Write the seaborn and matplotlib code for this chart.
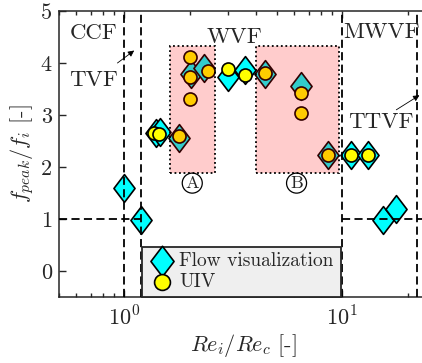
import numpy as np
import pandas as pd
import matplotlib
matplotlib.use("Agg")
import matplotlib.pyplot as plt
from matplotlib.path import Path
from matplotlib.patches import Rectangle
from matplotlib.ticker import NullFormatter, FixedLocator, LogLocator
import seaborn as sns

# ---------------- data ----------------
flow_x = [1.00, 1.19, 1.40, 1.46, 1.78, 2.02, 2.33, 2.99, 3.56, 4.40, 6.48, 8.59, 11.0, 13.1, 15.4, 17.6]
flow_y = [1.59, 0.98, 2.66, 2.67, 2.55, 3.78, 3.91, 3.74, 3.87, 3.79, 3.55, 2.23, 2.23, 2.23, 0.98, 1.19]

uiv_x = [1.37, 1.45, 1.79, 2.01, 2.01, 2.01, 2.41, 2.99, 3.58, 4.40, 6.48, 6.48, 8.59, 11.0, 13.1]
uiv_y = [2.65, 2.64, 2.60, 4.12, 3.74, 3.30, 3.84, 3.88, 3.77, 3.80, 3.43, 3.04, 2.23, 2.23, 2.23]

regime_bounds = [1.0, 1.19, 10.0, 22.0]
regime_labels = ["CCF", "TVF", "WVF", "MWVF", "TTVF"]
region_A = (1.615, 2.60)
region_B = (4.0, 9.62)
region_y = (1.88, 4.32)
legend_labels = ["Flow visualization", "UIV"]
x_ticks = [1, 10]
x_ticklabels = [r"$10^0$", r"$10^1$"]
y_ticks = [0, 1, 2, 3, 4, 5]

# ---------------- style ----------------
sns.set_style("ticks")
plt.rcParams["font.family"] = ["cmr10", "DejaVu Serif"]
plt.rcParams["mathtext.fontset"] = "cm"
plt.rcParams["axes.unicode_minus"] = False
plt.rcParams["axes.formatter.use_mathtext"] = True
FS_TICK = 16
FS_LAB = 16
FS_ANN = 16.5
FS_LEG = 14

fig = plt.figure(figsize=(4.22, 3.63), dpi=100)
ax = fig.add_axes([58.7 / 422, 66 / 363, 370.3 / 422, 286 / 363])
ax.set_xscale("log")
ax.set_xlim(0.5, 25)
ax.set_ylim(-0.5, 5)

diamond = Path([(0, 1), (0.76, 0), (0, -1), (-0.76, 0), (0, 1)],
               [Path.MOVETO, Path.LINETO, Path.LINETO, Path.LINETO, Path.CLOSEPOLY])

df_flow = pd.DataFrame({"x": flow_x, "y": flow_y})
df_uiv = pd.DataFrame({"x": uiv_x, "y": uiv_y})

sns.scatterplot(data=df_flow, x="x", y="y", ax=ax, marker=diamond, s=400,
                color="#00FFFF", edgecolor="black", linewidth=1.2,
                label=legend_labels[0], zorder=3)
sns.scatterplot(data=df_uiv, x="x", y="y", ax=ax, marker="o", s=88,
                color="#FFFF00", edgecolor="black", linewidth=1.2,
                label=legend_labels[1], zorder=4)

# shaded regions (drawn over markers)
for (x0, x1) in (region_A, region_B):
    ax.add_patch(Rectangle((x0, region_y[0]), x1 - x0, region_y[1] - region_y[0],
                           facecolor=(1, 0, 0, 0.2), edgecolor="black",
                           linestyle=(0, (1, 1.5)), linewidth=1.3, zorder=5))

# dashed regime boundaries
dash = (0, (4.5, 2.4))
for xb in regime_bounds:
    ax.axvline(xb, color="black", lw=1.3, linestyle=dash, zorder=6)
ax.plot([0.5, regime_bounds[1]], [1, 1], color="black", lw=1.3, linestyle=dash, zorder=6)
ax.plot([regime_bounds[2], 25], [1, 1], color="black", lw=1.3, linestyle=dash, zorder=6)

# regime labels
ax.text(0.72, 4.58, regime_labels[0], fontsize=FS_ANN, ha="center", va="center", zorder=7)
ax.text(0.72, 3.67, regime_labels[1], fontsize=FS_ANN, ha="center", va="center", zorder=7)
ax.text(3.2, 4.49, regime_labels[2], fontsize=FS_ANN, ha="center", va="center", zorder=7)
ax.text(15.1, 4.6, regime_labels[3], fontsize=FS_ANN, ha="center", va="center", zorder=7)
ax.text(15.1, 2.87, regime_labels[4], fontsize=FS_ANN, ha="center", va="center", zorder=7)

arrow = dict(arrowstyle="-|>", lw=0.6, color="black", mutation_scale=9, shrinkA=0, shrinkB=0)
ax.annotate("", xy=(1.11, 4.24), xytext=(0.93, 4.0), arrowprops=arrow, zorder=7)
ax.annotate("", xy=(22.6, 3.38), xytext=(17.7, 3.10), arrowprops=arrow, zorder=7,
            annotation_clip=False)

# circled region labels
for xc, lab in ((2.05, "A"), (6.17, "B")):
    ax.text(xc, 1.69, lab, fontsize=13, ha="center", va="center", zorder=7,
            bbox=dict(boxstyle="circle,pad=0.13", fc="none", ec="black", lw=0.9))

# axes, ticks
ax.xaxis.set_major_locator(FixedLocator(x_ticks))
ax.set_xticklabels(x_ticklabels)
ax.xaxis.set_minor_locator(LogLocator(base=10, subs=np.arange(2, 10)))
ax.xaxis.set_minor_formatter(NullFormatter())
ax.set_yticks(y_ticks)
ax.set_yticklabels([str(v) for v in y_ticks])
ax.tick_params(which="both", direction="in", top=True, right=True, labelsize=FS_TICK,
               color="#262626", width=1.0)
ax.tick_params(which="major", length=5)
ax.tick_params(which="minor", length=3)
ax.tick_params(axis="x", pad=6)
ax.tick_params(axis="y", pad=5)
for sp in ax.spines.values():
    sp.set_linewidth(1.1)
    sp.set_color("#262626")

ax.set_xlabel(r"$Re_i/Re_c$ [-]", fontsize=FS_LAB, labelpad=2)
ax.set_ylabel(r"$f_{peak}/f_i$ [-]", fontsize=FS_LAB, labelpad=3)

leg = ax.legend(loc="lower left", bbox_to_anchor=(0.2258, 0.0, 0.536, 0.185),
                mode="expand", borderaxespad=0, fontsize=FS_LEG, frameon=True,
                fancybox=False, framealpha=1, facecolor="#EFEFEF", edgecolor="#262626",
                handletextpad=0.2, handlelength=1.4, borderpad=0.3, labelspacing=0.15)
leg.get_frame().set_linewidth(1.3)
leg.set_zorder(10)
handles = leg.legend_handles
handles[0].set_sizes([480])
handles[1].set_sizes([130])

fig.savefig("out.png", dpi=100)
